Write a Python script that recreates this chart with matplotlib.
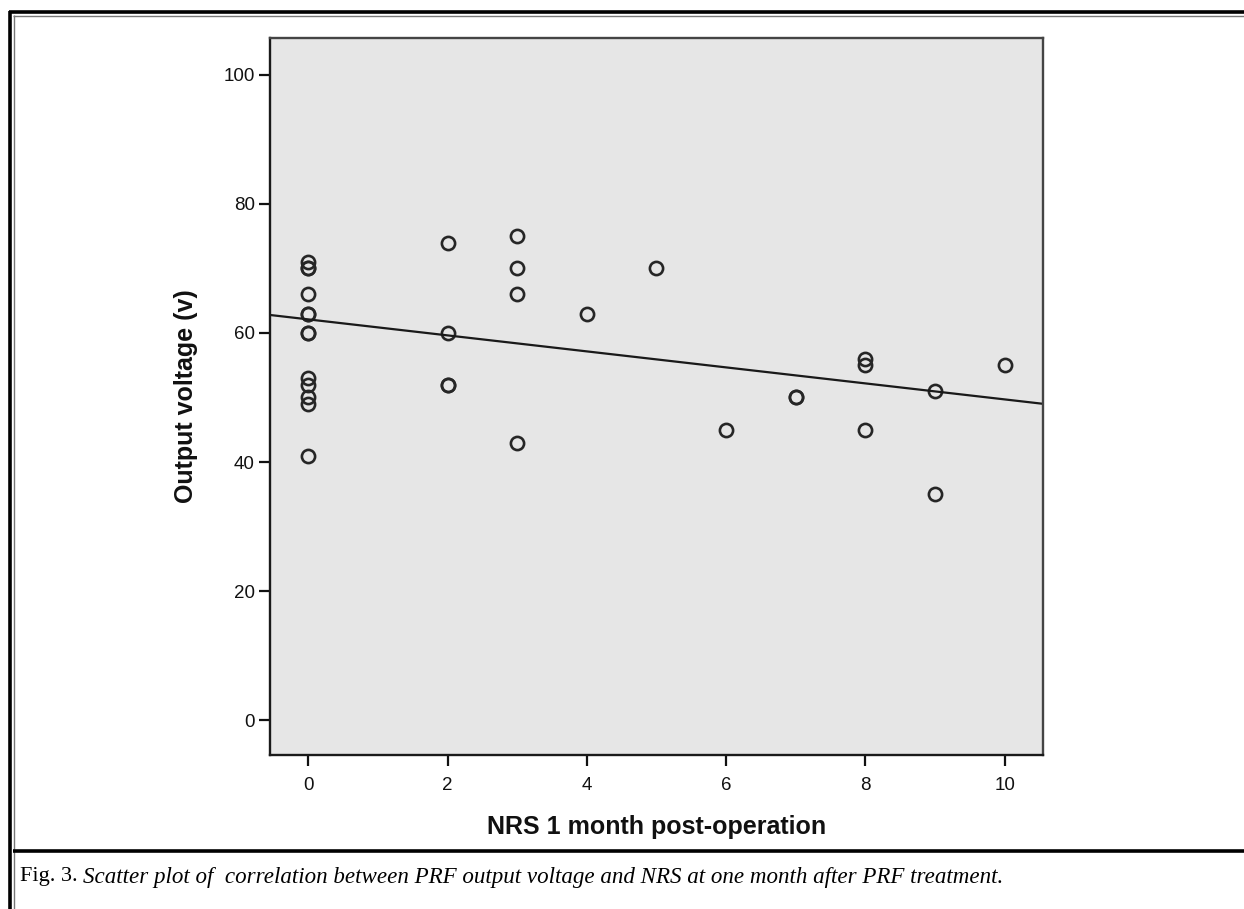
import matplotlib
matplotlib.use("Agg")
import matplotlib.pyplot as plt
from matplotlib.lines import Line2D
import numpy as np

# ---- data ----
nrs = [0]*13 + [2]*4 + [3]*4 + [4, 5, 6, 7, 7, 8, 8, 8, 9, 9, 10]
voltage = [71, 70, 70, 66, 63, 63, 60, 60, 53, 52, 50, 49, 41,
           74, 60, 52, 52,
           75, 70, 66, 43,
           63, 70, 45, 50, 50, 56, 55, 45, 51, 35, 55]
fit_intercept = 62.1
fit_slope = -1.24
x_ticks = [0, 2, 4, 6, 8, 10]
y_ticks = [0, 20, 40, 60, 80, 100]
x_label = "NRS 1 month post-operation"
y_label = "Output voltage (v)"
caption_lead = "Fig. 3. "
caption_rest = "Scatter plot of  correlation between PRF output voltage and NRS at one month after PRF treatment."

W, H = 1244, 909
fig = plt.figure(figsize=(W/100, H/100), dpi=100)
fig.patch.set_facecolor("white")

def fx(px):
    return px / W

def fy(py):
    return 1 - py / H

ax = fig.add_axes([fx(270), fy(755), fx(1043) - fx(270), fy(38) - fy(755)])
ax.set_facecolor("#e6e6e6")
ax.set_xlim(-0.55, 10.55)
ax.set_ylim(-5.4, 105.7)

ax.plot(nrs, voltage, linestyle="none", marker="o", markersize=9.5,
        markerfacecolor="none", markeredgecolor="#262626", markeredgewidth=1.9)
xl = np.array(ax.get_xlim())
ax.plot(xl, fit_intercept + fit_slope * xl, color="#1a1a1a", linewidth=1.6)

ax.set_xticks(x_ticks)
ax.set_yticks(y_ticks)
ax.tick_params(axis="both", direction="out", length=8, width=1.6, color="#111111",
               labelsize=13.5, labelcolor="#111111", pad=3)
ax.tick_params(axis="x", pad=8)
for lab in ax.get_xticklabels() + ax.get_yticklabels():
    lab.set_fontfamily("Liberation Sans")
for s in ax.spines.values():
    s.set_linewidth(1.7)
    s.set_color("#1a1a1a")
ax.spines["right"].set_color("#444444")
ax.spines["top"].set_color("#444444")

ax.set_xlabel(x_label, fontsize=18, fontweight="bold", family="Liberation Sans",
              color="#111111", labelpad=15)
ax.set_ylabel(y_label, fontsize=18, fontweight="bold", family="Liberation Sans",
              color="#111111", labelpad=18)

# ---- frame lines ----
def hline(py, x0, x1, lw, color):
    fig.add_artist(Line2D([fx(x0), fx(x1)], [fy(py), fy(py)], transform=fig.transFigure,
                          linewidth=lw, color=color, solid_capstyle="butt"))

def vline(px, y0, y1, lw, color):
    fig.add_artist(Line2D([fx(px), fx(px)], [fy(y0), fy(y1)], transform=fig.transFigure,
                          linewidth=lw, color=color, solid_capstyle="butt"))

hline(12, 8.5, W, 2.6, "black")
hline(15.5, 12.5, W, 1.0, "#777777")
vline(10, 10.5, H, 2.6, "black")
vline(13.5, 14.5, H, 1.0, "#777777")
hline(851, 12.5, W, 2.6, "black")

# ---- caption ----
t1 = fig.text(fx(20), fy(877), caption_lead, fontsize=16, family="Liberation Serif",
              va="center", ha="left", color="black")
fig.canvas.draw()
bb = t1.get_window_extent(renderer=fig.canvas.get_renderer())
fig.text(bb.x1 / W, fy(877), caption_rest, fontsize=16.6, family="Liberation Serif",
         style="italic", va="center", ha="left", color="black")

fig.savefig("out.png", dpi=100)
